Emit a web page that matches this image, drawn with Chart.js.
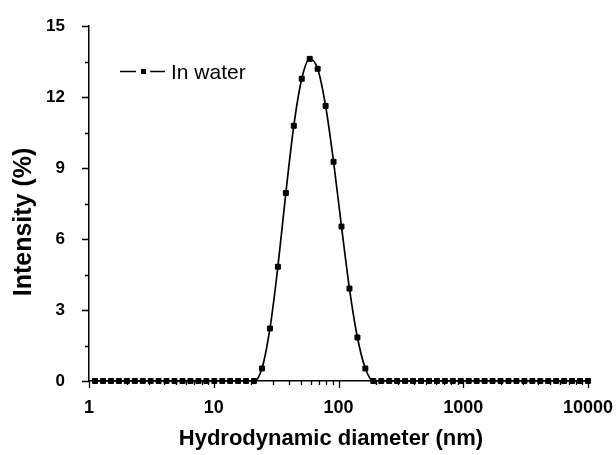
<!DOCTYPE html>
<html>
<head>
<meta charset="utf-8">
<script src="https://cdn.jsdelivr.net/npm/chart.js@4.4.1/dist/chart.umd.min.js"></script>
<style>
  html, body { margin: 0; padding: 0; background: #fff; }
  #wrap { width: 616px; height: 455px; }
</style>
</head>
<body>
<div id="wrap"><canvas id="dlsChart" width="616" height="455"></canvas></div>
<script>
// size bins (nm) and intensity (%)
var sizes = [1.117, 1.294, 1.499, 1.736, 2.010, 2.328, 2.696, 3.122, 3.615, 4.187,
    4.849, 5.615, 6.503, 7.531, 8.721, 10.10, 11.70, 13.54, 15.69, 18.17,
    21.04, 24.36, 28.21, 32.67, 37.84, 43.82, 50.75, 58.77, 68.06, 78.82,
    91.28, 105.7, 122.4, 141.8, 164.2, 190.1, 220.2, 255.0, 295.3, 342.0,
    396.1, 458.7, 531.2, 615.1, 712.4, 825.0, 955.4, 1106, 1281, 1484,
    1718, 1990, 2305, 2669, 3091, 3580, 4145, 4801, 5560, 6439,
    7456, 8635, 10000];
var intensity = [0, 0, 0, 0, 0, 0, 0, 0, 0, 0,
    0, 0, 0, 0, 0, 0, 0, 0, 0, 0,
    0, 0.53, 2.22, 4.83, 7.95, 10.79, 12.78, 13.62, 13.2, 11.63,
    9.27, 6.53, 3.91, 1.84, 0.53, 0, 0, 0, 0, 0,
    0, 0, 0, 0, 0, 0, 0, 0, 0, 0,
    0, 0, 0, 0, 0, 0, 0, 0, 0, 0,
    0, 0, 0];
var xLabels = [1, 10, 100, 1000, 10000];
var yLabels = [0, 3, 6, 9, 12, 15];

var FONT = "'Liberation Sans', Arial, sans-serif";

var pts = [];
for (var i = 0; i < sizes.length; i++) {
    pts.push({x: sizes[i], y: intensity[i]});
}

// tick marks (major/minor) + legend + axis titles
var decor = {
    id: 'decor',
    afterDraw: function (chart) {
        var c = chart.ctx, xs = chart.scales.x, ys = chart.scales.y;
        var x0 = xs.left, y0 = ys.bottom;
        c.save();
        c.strokeStyle = '#000';
        c.lineWidth = 1.3;
        c.beginPath();
        xs.ticks.forEach(function (t) {
            var px = Math.round(xs.getPixelForValue(t.value)) + 0.5;
            var len = xLabels.indexOf(t.value) >= 0 ? 7 : 4;
            c.moveTo(px, y0);
            c.lineTo(px, y0 + len);
        });
        ys.ticks.forEach(function (t) {
            var py = Math.round(ys.getPixelForValue(t.value)) + 0.5;
            var len = yLabels.indexOf(t.value) >= 0 ? 7 : 4;
            c.moveTo(x0, py);
            c.lineTo(x0 - len, py);
        });
        c.stroke();

        // legend
        c.lineWidth = 1.5;
        c.beginPath();
        c.moveTo(120, 71.5); c.lineTo(136, 71.5);
        c.moveTo(150, 71.5); c.lineTo(165, 71.5);
        c.stroke();
        c.fillStyle = '#000';
        c.fillRect(141, 69, 5, 5);
        c.font = '21px ' + FONT;
        c.textBaseline = 'alphabetic';
        c.textAlign = 'left';
        c.fillText('In water', 171, 79);

        // x title
        c.font = 'bold 22px ' + FONT;
        c.textAlign = 'center';
        c.fillText('Hydrodynamic diameter (nm)', 331, 445);

        // y title
        c.translate(31, 222);
        c.rotate(-Math.PI / 2);
        c.font = 'bold 25px ' + FONT;
        c.fillText('Intensity (%)', 0, 0);
        c.restore();
    }
};

var ctx = document.getElementById('dlsChart');
var chart = new Chart(ctx, {
    type: 'line',
    data: {
        datasets: [{
            label: 'In water',
            data: pts,
            borderColor: '#000',
            borderWidth: 1.7,
            backgroundColor: '#000',
            pointStyle: 'rect',
            pointRadius: 3.5,
            pointBorderWidth: 1,
            pointBackgroundColor: '#000',
            pointBorderColor: '#000',
            cubicInterpolationMode: 'monotone',
            fill: false,
            clip: false
        }]
    },
    options: {
        responsive: false,
        animation: false,
        devicePixelRatio: 1,
        layout: {
            padding: {left: 0, right: 28, top: 25, bottom: 0}
        },
        plugins: {
            legend: {display: false},
            tooltip: {enabled: false}
        },
        scales: {
            x: {
                type: 'logarithmic',
                position: 'bottom',
                min: 1,
                max: 10000,
                border: {display: true, color: '#000', width: 1.5},
                grid: {display: false},
                afterBuildTicks: function (scale) {
                    var t = [];
                    for (var d = 1; d <= 10000; d *= 10) {
                        for (var m = 1; m <= 9; m++) {
                            if (d * m <= 10000) t.push({value: d * m});
                        }
                    }
                    scale.ticks = t;
                },
                afterFit: function (scale) {
                    scale.height = 74;
                    scale.paddingRight = 0;
                },
                ticks: {
                    autoSkip: false,
                    maxRotation: 0,
                    padding: 8,
                    color: '#000',
                    font: {family: FONT, size: 18, weight: 'bold'},
                    callback: function (v) {
                        return xLabels.indexOf(v) >= 0 ? String(v) : '';
                    }
                }
            },
            y: {
                type: 'linear',
                min: 0,
                max: 15,
                border: {display: true, color: '#000', width: 1.5},
                grid: {display: false},
                afterBuildTicks: function (scale) {
                    var t = [];
                    for (var k = 0; k <= 10; k++) t.push({value: k * 1.5});
                    scale.ticks = t;
                },
                afterFit: function (scale) { scale.width = 89; },
                ticks: {
                    autoSkip: false,
                    padding: 16,
                    color: '#000',
                    font: {family: FONT, size: 17, weight: 'bold'},
                    callback: function (v) {
                        return yLabels.indexOf(v) >= 0 ? String(v) : '';
                    }
                }
            }
        }
    },
    plugins: [decor]
});
</script>
</body>
</html>
